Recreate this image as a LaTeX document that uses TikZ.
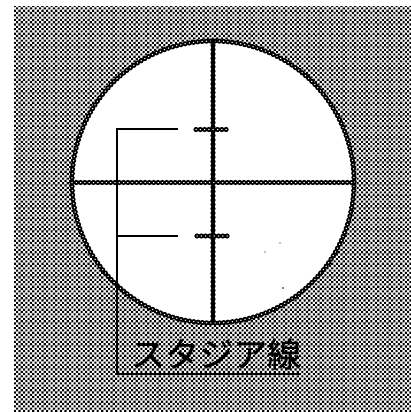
\documentclass[tikz,border=0pt]{standalone}
\usepackage{fontspec}
\newfontfamily\cjk[FakeBold=0.6]{Noto Sans CJK JP}
\usetikzlibrary{patterns}
\pgfdeclarepatternformonly{checkdots}{\pgfqpoint{-0.1pt}{-0.1pt}}{\pgfqpoint{4.7pt}{4.7pt}}{\pgfqpoint{4.6pt}{4.6pt}}{
  \pgfpathrectangle{\pgfqpoint{0pt}{0pt}}{\pgfqpoint{2.1pt}{2.1pt}}
  \pgfpathrectangle{\pgfqpoint{2.3pt}{2.3pt}}{\pgfqpoint{2.1pt}{2.1pt}}
  \pgfusepath{fill}}
\tikzset{
  bead/.style={line width=5.2pt,black,line cap=round,dash pattern=on 0pt off 4.3pt},
  beadcore/.style={line width=1.5pt,white,line cap=round,dash pattern=on 0pt off 4.3pt},
  leader/.style={line width=2pt,black,line cap=butt},
}
\begin{document}
\begin{tikzpicture}[x=1pt,y=-1pt]
\useasboundingbox (0,0) rectangle (411,412);
\fill[pattern=checkdots,pattern color=black] (14,7) rectangle (411,412);
% lens
\coordinate (c) at (213,182);
\fill[white] (c) circle[radius=141];
\draw[bead] (c) circle[radius=141];
\draw[beadcore] (c) circle[radius=141];
% cross hairs
\coordinate (vt) at (213,41); \coordinate (vb) at (213,323);
\coordinate (hl) at (72,182.5); \coordinate (hr) at (354,182.5);
\draw[bead] (vt) -- (vb);
\draw[bead] (hl) -- (hr); \draw[beadcore] (hl) -- (hr);
% stadia ticks
\coordinate (t1l) at (196,129.5); \coordinate (t1r) at (230,129.5);
\coordinate (t2l) at (197,236); \coordinate (t2r) at (230,236);
\draw[bead] (t1l) -- (t1r); \draw[beadcore] (t1l) -- (t1r);
\draw[bead] (t2l) -- (t2r); \draw[beadcore] (t2l) -- (t2r);
% leaders
\coordinate (l1) at (178,129) ; \coordinate (l2) at (178,236);
\coordinate (k1) at (116.5,129); \coordinate (k2) at (116.5,236);
\coordinate (k3) at (116.5,374); \coordinate (l3) at (300,374);
\draw[leader] (l1) -- (k1) -- (k3) -- (l3);
\draw[leader] (k2) -- (l2);
% specks
\fill (280,243) circle[radius=.6];
\fill (265,252) circle[radius=.6];
\fill (283,288) circle[radius=.8];
\node[inner sep=0pt,anchor=center,text=black] (label) at (216,354) {\cjk\fontsize{34pt}{34pt}\selectfont スタジア線};
\end{tikzpicture}
\end{document}
